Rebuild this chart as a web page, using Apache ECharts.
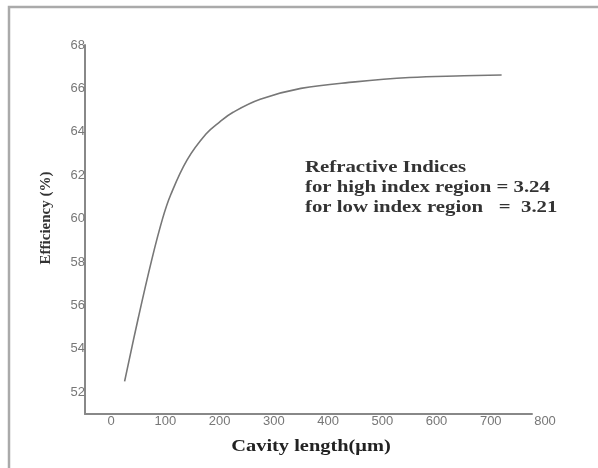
<!DOCTYPE html>
<html>
<head>
<meta charset="utf-8">
<script src="https://cdn.jsdelivr.net/npm/echarts@6/dist/echarts.min.js"></script>
<style>
  html, body { margin: 0; padding: 0; background: #fff; }
  #chart { width: 598px; height: 468px; }
</style>
</head>
<body>
<div id="chart"></div>
<script>
// cavity length (µm) vs efficiency (%)
const cavityLength = [25, 50, 75, 95, 110, 140, 175, 200, 225, 275, 350, 450, 550, 650, 720];
const efficiency = [52.5, 55.4, 58.1, 60.0, 61.1, 62.7, 63.9, 64.45, 64.9, 65.5, 66.0, 66.3, 66.5, 66.58, 66.62];
const xTicks = [0, 100, 200, 300, 400, 500, 600, 700, 800];
const yTicks = [52, 54, 56, 58, 60, 62, 64, 66, 68];
const noteLines = [
  'Refractive Indices',
  'for high index region = 3.24',
  'for low index region   =  3.21'
];

const chart = echarts.init(document.getElementById('chart'));

const labelStyle = { color: '#777', fontFamily: 'Arial, Liberation Sans', fontSize: 13 };
const titleFont = { fontFamily: 'Liberation Serif, Times New Roman', fontWeight: 'bold' };

const option = {
  backgroundColor: '#fff',
  animation: false,
  grid: [
    { left: 85, top: 45, right: 66, bottom: 54 },   // plot area, line ends ~776
    { left: 85, top: 45, right: 53, bottom: 54 }    // only used to place the x labels up to 800
  ],
  xAxis: [
    {
      gridIndex: 0, type: 'value', min: -48, max: 776,
      axisLine: { onZero: false, lineStyle: { color: '#888', width: 2 } },
      axisTick: { show: false },
      axisLabel: { show: false },
      splitLine: { show: false }
    },
    {
      gridIndex: 1, type: 'value', min: -48, max: 800,
      axisLine: { show: false },
      axisTick: { show: false },
      splitLine: { show: false },
      axisLabel: Object.assign({ customValues: xTicks, margin: 1 }, labelStyle)
    }
  ],
  yAxis: [
    {
      gridIndex: 0, type: 'value', min: 51, max: 68,
      axisLine: { show: true, onZero: false, lineStyle: { color: '#888', width: 2 } },
      axisTick: { show: false },
      splitLine: { show: false },
      axisLabel: Object.assign({ customValues: yTicks, margin: 0 }, labelStyle)
    },
    {
      gridIndex: 1, type: 'value', min: 51, max: 68, show: false
    }
  ],
  series: [
    {
      type: 'line',
      xAxisIndex: 0, yAxisIndex: 0,
      data: cavityLength.map((x, i) => [x, efficiency[i]]),
      smooth: 0.4,
      showSymbol: false,
      lineStyle: { color: '#777', width: 1.6 }
    }
  ],
  graphic: [
    {
      type: 'rect',
      shape: { x: 9, y: 7, width: 620, height: 480 },
      style: { fill: null, stroke: '#aaa', lineWidth: 2.5 },
      silent: true
    },
    {
      // y axis title
      type: 'text',
      x: 46, y: 218,
      rotation: Math.PI / 2,
      style: Object.assign({ text: 'Efficiency (%)', fontSize: 15, fill: '#333', align: 'center', verticalAlign: 'middle' }, titleFont)
    },
    {
      // x axis title
      type: 'text',
      x: 311, y: 447,
      scaleX: 1.2,
      style: Object.assign({ text: 'Cavity length(μm)', fontSize: 17, fill: '#222', align: 'center', verticalAlign: 'middle' }, titleFont)
    },
    {
      type: 'group',
      left: 305, top: 160,
      children: noteLines.map((t, i) => ({
        type: 'text',
        x: 0, y: i * 20,
        scaleX: 1.3,
        style: Object.assign({ text: t, fontSize: 16, fill: '#333' }, titleFont)
      }))
    }
  ]
};

chart.setOption(option);
</script>
</body>
</html>
